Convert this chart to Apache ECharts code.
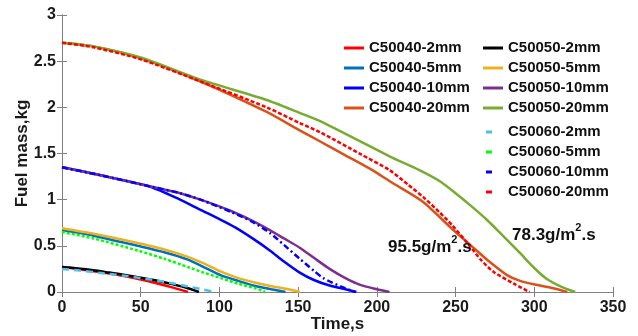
<!DOCTYPE html>
<html>
<head>
<meta charset="utf-8">
<script src="https://cdn.jsdelivr.net/npm/echarts@6/dist/echarts.min.js"></script>
<style>
  html, body { margin: 0; padding: 0; background: #fff; }
  #chart { width: 638px; height: 336px; }
</style>
</head>
<body>
<div id="chart"></div>
<script>
// [time s, fuel mass kg]
const c50040_2mm = [[0,0.27],[10,0.25],[20,0.225],[30,0.2],[40,0.17],[50,0.135],[60,0.095],[70,0.05],[80,0]];
const c50040_5mm = [[0,0.67],[20,0.61],[48,0.5],[65,0.43],[80,0.35],[90,0.27],[101,0.18],[112,0.12],[123,0.065],[133,0.03],[142,0]];
const c50040_10mm = [[0,1.35],[23,1.27],[56,1.14],[75,1.0],[88,0.89],[100,0.79],[110,0.7],[122,0.57],[132,0.45],[141,0.33],[151,0.21],[160,0.13],[170,0.07],[180,0.03],[187,0]];
const c50040_20mm = [[0,2.7],[20,2.66],[50,2.53],[88,2.28],[130,1.95],[151,1.75],[164,1.63],[180,1.48],[196,1.33],[210,1.18],[229,0.98],[248,0.68],[260,0.5],[270,0.35],[283,0.18],[291,0.12],[302,0.075],[312,0.04],[321,0]];

const c50050_2mm = [[0,0.27],[10,0.255],[20,0.235],[30,0.21],[40,0.185],[50,0.155],[60,0.125],[70,0.085],[80,0.04],[87,0]];
const c50050_5mm = [[0,0.69],[20,0.63],[48,0.53],[65,0.46],[80,0.38],[90,0.31],[101,0.22],[112,0.15],[123,0.1],[134,0.06],[144,0.03],[151,0]];
const c50050_10mm = [[0,1.35],[23,1.27],[57,1.14],[75,1.07],[88,1.0],[107,0.88],[121,0.77],[132,0.67],[141,0.58],[151,0.48],[160,0.37],[170,0.25],[180,0.15],[189,0.08],[200,0.03],[208,0]];
const c50050_20mm = [[0,2.7],[20,2.66],[50,2.54],[88,2.3],[130,2.08],[151,1.94],[164,1.85],[208,1.47],[227,1.32],[240,1.2],[250,1.07],[260,0.93],[270,0.78],[280,0.61],[291,0.42],[300,0.26],[308,0.14],[318,0.05],[326,0]];

const c50060_2mm = [[0,0.25],[10,0.235],[20,0.215],[30,0.195],[40,0.175],[50,0.15],[60,0.125],[70,0.095],[80,0.06],[90,0.025],[97,0]];
const c50060_5mm = [[0,0.65],[20,0.58],[48,0.45],[65,0.36],[80,0.27],[90,0.21],[101,0.15],[112,0.09],[123,0.04],[129,0]];
const c50060_10mm = [[0,1.35],[23,1.27],[57,1.14],[75,1.07],[88,1.0],[107,0.87],[121,0.76],[132,0.64],[141,0.51],[151,0.36],[160,0.23],[166,0.15],[177,0.06],[186,0]];
const c50060_20mm = [[0,2.7],[20,2.65],[50,2.52],[88,2.28],[130,2.0],[151,1.83],[164,1.73],[190,1.49],[208,1.32],[220,1.16],[230,1.02],[240,0.86],[248,0.72],[259,0.5],[266,0.35],[274,0.22],[287,0.09],[297,0]];

const names40 = ["C50040-2mm", "C50040-5mm", "C50040-10mm", "C50040-20mm"];
const names50 = ["C50050-2mm", "C50050-5mm", "C50050-10mm", "C50050-20mm"];
const names60 = ["C50060-2mm", "C50060-5mm", "C50060-10mm", "C50060-20mm"];

const font = 'Arial, "Liberation Sans", sans-serif';

const line = (name, data, color, type) => ({
  name,
  type: "line",
  data,
  showSymbol: false,
  symbol: "none",
  smooth: 0.25,
  itemStyle: { color },
  lineStyle: { color, width: 2.5, type: type || "solid" },
});

const series = [
  line(names40[0], c50040_2mm, "#FF0000"),
  line(names40[1], c50040_5mm, "#0072BD"),
  line(names40[2], c50040_10mm, "#0000FF"),
  line(names40[3], c50040_20mm, "#D95319"),
  line(names50[0], c50050_2mm, "#000000"),
  line(names50[1], c50050_5mm, "#EDB120"),
  line(names50[2], c50050_10mm, "#7E2F8E"),
  line(names50[3], c50050_20mm, "#77AC30"),
  line(names60[0], c50060_2mm, "#4DBEEE", [7, 5]),
  line(names60[1], c50060_5mm, "#00FF00", [3, 2]),
  line(names60[2], c50060_10mm, "#0000FF", [6, 3, 2, 3]),
  line(names60[3], c50060_20mm, "#FF0000", [4, 2]),
];

const legendText = { fontFamily: font, fontSize: 15, fontWeight: "bold", color: "#111", lineHeight: 16 };
const legendBase = {
  orient: "vertical",
  padding: 0,
  itemGap: 4,
  itemWidth: 20,
  itemHeight: 3,
  icon: "rect",
  selectedMode: false,
  textStyle: legendText,
};

const axisLine = { show: true, lineStyle: { color: "#808080", width: 1 } };
const tickIn = { show: true, inside: true, length: 5, lineStyle: { color: "#808080" } };
const tickLabel = { fontFamily: font, fontSize: 16, fontWeight: "bold", color: "#1a1a1a" };
const nameStyle = { fontFamily: font, fontSize: 17, fontWeight: "bold", color: "#1a1a1a" };

const chart = echarts.init(document.getElementById("chart"));
chart.setOption({
  animation: false,
  backgroundColor: "#fff",
  grid: { left: 62, right: 25, top: 15, bottom: 44, outerBoundsMode: "none", containLabel: false },
  xAxis: [
    {
      type: "value", min: 0, max: 350, interval: 50, position: "bottom",
      axisLine, axisTick: tickIn, splitLine: { show: false },
      axisLabel: Object.assign({ margin: 8 }, tickLabel),
      name: "Time,s", nameLocation: "middle", nameGap: 24, nameMoveOverlap: false,
      nameTextStyle: nameStyle,
    },
    {
      type: "value", min: 0, max: 350, interval: 50, position: "top",
      axisLine, axisTick: tickIn, splitLine: { show: false }, axisLabel: { show: false },
    },
  ],
  yAxis: [
    {
      type: "value", min: 0, max: 3, interval: 0.5, position: "left",
      axisLine, axisTick: tickIn, splitLine: { show: false },
      axisLabel: Object.assign({ margin: 6 }, tickLabel),
      name: "Fuel mass,kg", nameLocation: "middle", nameGap: 31, nameMoveOverlap: false,
      nameTextStyle: nameStyle,
    },
    {
      type: "value", min: 0, max: 3, interval: 0.5, position: "right",
      axisLine, axisTick: tickIn, splitLine: { show: false }, axisLabel: { show: false },
    },
  ],
  legend: [
    Object.assign({}, legendBase, { data: names40, left: 344, top: 40 }),
    Object.assign({}, legendBase, { data: names50, left: 483, top: 40 }),
    Object.assign({}, legendBase, {
      data: names60, left: 486, top: 124, itemWidth: 6,
      textStyle: Object.assign({}, legendText, { padding: [0, 0, 0, 11] }),
    }),
  ],
  graphic: [
    {
      type: "text", left: 388, top: 234, z: 100,
      style: {
        text: "{a|95.5g/m}{b|2}{a|.s}",
        rich: {
          a: { fontFamily: font, fontSize: 17, fontWeight: "bold", fill: "#111", lineHeight: 22, verticalAlign: "bottom" },
          b: { fontFamily: font, fontSize: 11, fontWeight: "bold", fill: "#111", lineHeight: 11, verticalAlign: "top" },
        },
      },
    },
    {
      type: "text", left: 512, top: 222, z: 100,
      style: {
        text: "{a|78.3g/m}{b|2}{a|.s}",
        rich: {
          a: { fontFamily: font, fontSize: 17, fontWeight: "bold", fill: "#111", lineHeight: 22, verticalAlign: "bottom" },
          b: { fontFamily: font, fontSize: 11, fontWeight: "bold", fill: "#111", lineHeight: 11, verticalAlign: "top" },
        },
      },
    },
  ],
  series,
});
</script>
</body>
</html>
